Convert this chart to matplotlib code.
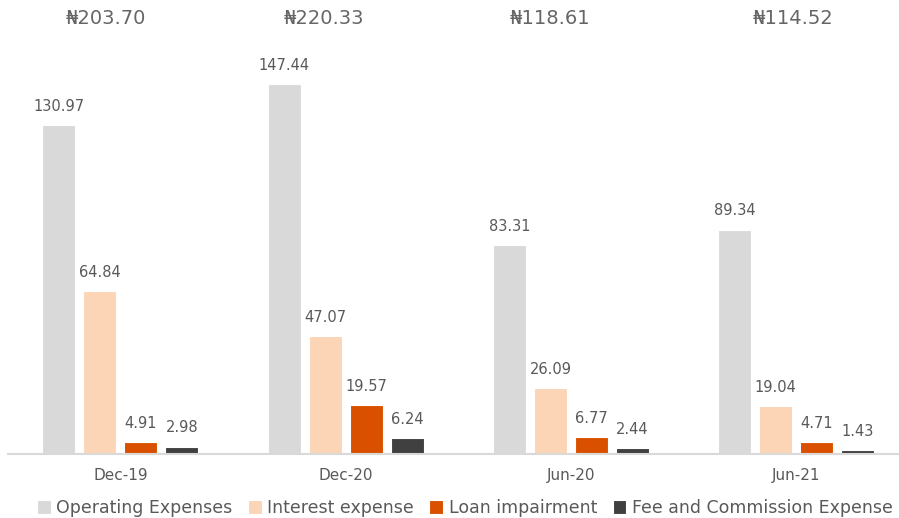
import matplotlib.pyplot as plt
import numpy as np

plt.rcParams['font.family'] = ['DejaVu Sans']

# Expense breakdown per period (N billion)
periods = ["Dec-19", "Dec-20", "Jun-20", "Jun-21"]
series_names = ["Operating Expenses", "Interest expense", "Loan impairment",
                "Fee and Commission Expense"]
operating = [130.97, 147.44, 83.31, 89.34]
interest = [64.84, 47.07, 26.09, 19.04]
impairment = [4.91, 19.57, 6.77, 4.71]
fee_commission = [2.98, 6.24, 2.44, 1.43]
totals = [203.70, 220.33, 118.61, 114.52]

colors = ["#D9D9D9", "#FBD5B5", "#D95000", "#404040"]
text_color = "#595959"

fig = plt.figure(figsize=(8.99, 5.18), dpi=100)
W, H = 899, 518
group_px = 225.3
left_px = 7.8
base_px = 454
ax = fig.add_axes([left_px / W, (H - base_px) / H, 4 * group_px / W, base_px / H])

x = np.arange(len(periods))
spacing = 41 / group_px
width = 33 / group_px
all_series = [operating, interest, impairment, fee_commission]

for i, (vals, name, col) in enumerate(zip(all_series, series_names, colors)):
    pos = x + (i - 1.5) * spacing
    bars = ax.bar(pos, vals, width, color=col, edgecolor="white", linewidth=0.8,
                  label=name)
    for b, v in zip(bars, vals):
        ax.annotate(f"{v:.2f}", (b.get_x() + b.get_width() / 2, v),
                    xytext=(0, 8), textcoords="offset points",
                    ha="center", va="bottom", fontsize=10.5, color=text_color)

px_per_unit = 329 / 130.97
ax.set_ylim(0, base_px / px_per_unit)
ax.set_xlim(-0.5, 3.5)

# Period totals across the top
total_shift = [-15, -22, -21, -3]
for xi, t, s in zip(x, totals, total_shift):
    ax.text(xi + s / group_px, (base_px - 19) / px_per_unit, f"\u20a6{t:.2f}",
            ha="center", va="center", fontsize=14, color="#666666")

ax.set_xticks(x)
ax.set_xticklabels(periods, fontsize=11, color=text_color)
ax.tick_params(axis="x", length=0, pad=10)
ax.set_yticks([])
for side in ["top", "right", "left"]:
    ax.spines[side].set_visible(False)
ax.spines["bottom"].set_color("#D9D9D9")
ax.spines["bottom"].set_linewidth(1.5)

fig.legend(loc="center", bbox_to_anchor=(0.517, 1 - 508 / H), ncol=4,
           frameon=False, fontsize=12.5, handlelength=0.8, handleheight=0.8,
           handletextpad=0.3, columnspacing=0.9, labelcolor=text_color)

fig.savefig("out.png", dpi=100)
